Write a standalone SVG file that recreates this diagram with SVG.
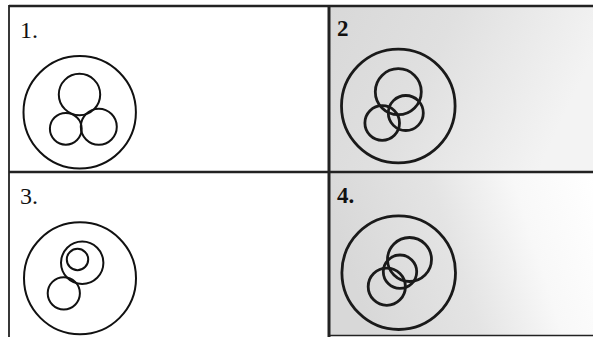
<svg xmlns="http://www.w3.org/2000/svg" width="593" height="337" viewBox="0 0 593 337">
<style>
.c1{fill:none;stroke:#111;stroke-width:2}
.c2{fill:none;stroke:#1a1a1a;stroke-width:2.8}
.lbl{font-family:"Liberation Serif","Times New Roman",serif;font-size:24px;fill:#111}
.lblb{font-family:"Liberation Serif","Times New Roman",serif;font-size:23px;font-weight:bold;fill:#111}
.grid{stroke:#222;fill:none}
</style>
<defs>
<linearGradient id="g2" x1="0" y1="0" x2="1" y2="0.3">
<stop offset="0" stop-color="#d8d8d8"/>
<stop offset="0.45" stop-color="#e0e0e0"/>
<stop offset="1" stop-color="#f3f3f3"/>
</linearGradient>
<linearGradient id="g4" x1="0" y1="0.2" x2="1" y2="0">
<stop offset="0" stop-color="#d8d8d8"/>
<stop offset="0.4" stop-color="#e4e4e4"/>
<stop offset="0.7" stop-color="#f8f8f8"/>
<stop offset="1" stop-color="#ffffff"/>
</linearGradient>
</defs>
<rect width="593" height="337" fill="#ffffff"/>
<rect x="329" y="6" width="264" height="166" fill="url(#g2)"/>
<rect x="329" y="172" width="264" height="163" fill="url(#g4)"/>
<g id="table">
<line class="grid" x1="9" y1="6" x2="593" y2="6" stroke-width="2.5"/>
<line class="grid" x1="9" y1="172" x2="593" y2="172" stroke-width="2.5"/>
<line class="grid" x1="9" y1="5" x2="9" y2="337" stroke-width="1.8"/>
<line class="grid" x1="329" y1="5" x2="329" y2="337" stroke-width="3" stroke="#444"/>
<line class="grid" x1="329" y1="335.5" x2="593" y2="335.5" stroke-width="1.5" stroke="#666"/>
</g>
<g id="panel1">
<text class="lbl" x="20" y="38">1.</text>
<circle class="c1" cx="79.7" cy="112.2" r="56.2"/>
<circle class="c1" cx="79.5" cy="94.5" r="20.7"/>
<circle class="c1" cx="65.8" cy="128.8" r="15.9"/>
<circle class="c1" cx="98.8" cy="126.7" r="18"/>
</g>
<g id="panel2">
<text class="lblb" x="337" y="36">2</text>
<circle class="c2" cx="398.3" cy="106" r="56.8"/>
<circle class="c2" cx="398.3" cy="91.7" r="23"/>
<circle class="c2" cx="382.2" cy="123" r="17.3"/>
<circle class="c2" cx="405.8" cy="113" r="17.5"/>
</g>
<g id="panel3">
<text class="lbl" x="20" y="204">3.</text>
<circle class="c1" cx="80" cy="278.3" r="56"/>
<circle class="c1" cx="82.2" cy="262.8" r="21.2"/>
<circle class="c1" cx="77.5" cy="259.5" r="10.7"/>
<circle class="c1" cx="63.8" cy="293.3" r="16.1"/>
</g>
<g id="panel4">
<text class="lblb" x="337" y="203">4.</text>
<circle class="c2" cx="398.7" cy="272.7" r="56.8"/>
<circle class="c2" cx="409.5" cy="259.5" r="22"/>
<circle class="c2" cx="400" cy="271.7" r="16.7"/>
<circle class="c2" cx="386.8" cy="286.7" r="18.6"/>
</g>
</svg>
